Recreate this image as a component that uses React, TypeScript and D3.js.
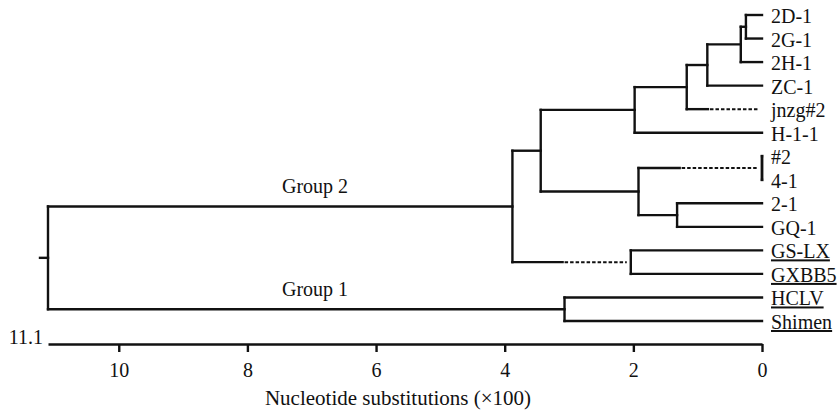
import React, { useEffect, useRef } from 'react';
import * as d3 from 'd3';

// leaves, top to bottom
const leafNames = ['2D-1', '2G-1', '2H-1', 'ZC-1', 'jnzg#2', 'H-1-1', '#2', '4-1', '2-1', 'GQ-1', 'GS-LX', 'GXBB5', 'HCLV', 'Shimen'];
const leafParents = ['G', 'G', 'F', 'E', 'D', 'C', 'P', 'P', 'L', 'L', 'M', 'M', 'G1', 'G1'];
const underlined = ['GS-LX', 'GXBB5', 'HCLV', 'Shimen'];

// internal nodes, height = distance from the tips (x100 substitutions)
const nodeIds = ['root', 'G2', 'A', 'C', 'D', 'E', 'F', 'G', 'K', 'P', 'L', 'M', 'G1'];
const nodeParents = ['', 'root', 'G2', 'A', 'C', 'D', 'E', 'F', 'A', 'K', 'K', 'G2', 'root'];
const nodeHeights = [11.1, 3.88, 3.44, 1.98, 1.17, 0.85, 0.33, 0.25, 1.92, 0, 1.32, 2.04, 3.07];

// branches drawn partly dashed: solid from parent until dashFrom
const dashedNodes = ['jnzg#2', 'P', 'M'];
const dashFrom = [0.84, 1.28, 3.1];

const groupLabels = ['Group 2', 'Group 1'];
const groupNodes = ['G2', 'G1'];

const tickValues = [0, 2, 4, 6, 8, 10];
const rootLabel = '11.1';
const axisTitle = 'Nucleotide substitutions (\u00d7100)';

const font = '"Liberation Serif", "Times New Roman", Times, serif';
const ink = '#111';
const lw = 2.4;

export default function App() {
  const axisRef = useRef<SVGGElement>(null);

  const x = d3.scaleLinear().domain([11.1, 0]).range([48, 762]);
  const y = d3.scalePoint<string>().domain(leafNames).range([15, 321]);
  const axisY = 344;

  const table = [
    ...nodeIds.map((id, i) => ({ id, parentId: nodeParents[i], height: nodeHeights[i] })),
    ...leafNames.map((id, i) => ({ id, parentId: leafParents[i], height: 0 })),
  ];
  const root: any = d3.stratify<any>().id((d: any) => d.id).parentId((d: any) => d.parentId)(table);
  root.eachAfter((n: any) => {
    if (!n.children) n.py = y(n.id);
    else {
      const ys = n.children.map((c: any) => c.py);
      n.py = ((d3.min(ys) as number) + (d3.max(ys) as number)) / 2;
    }
    n.px = x(n.data.height);
  });
  const nodes: any[] = root.descendants();
  const byId: Record<string, any> = {};
  nodes.forEach((n) => (byId[n.id] = n));

  useEffect(() => {
    if (!axisRef.current) return;
    const g = d3.select(axisRef.current);
    g.selectAll('*').remove();
    g.call(d3.axisBottom(x).tickValues(tickValues).tickSize(8).tickSizeOuter(0).tickPadding(11).tickFormat(d3.format('d')) as any);
    g.select('.domain').attr('stroke', ink).attr('stroke-width', lw);
    g.selectAll('.tick line').attr('stroke', ink).attr('stroke-width', lw);
    g.selectAll('.tick text').attr('fill', ink).attr('font-size', 20).attr('font-family', font);
  }, []);

  return (
    <svg width={840} height={414} style={{ position: 'absolute', left: 0, top: 0, background: '#fff' }}>
      <g fill="none" stroke={ink} strokeWidth={lw} strokeLinecap="square">
        {/* root stub */}
        <path d={`M${root.px - 8},${root.py}H${root.px}`} />
        {nodes.filter((n) => n.children).map((n) => {
          const ys = n.children.map((c: any) => c.py);
          return (
            <path key={'v' + n.id} d={`M${n.px},${d3.min(ys)}V${d3.max(ys)}`} strokeWidth={n.id === 'P' ? 2.8 : lw} />
          );
        })}
        {nodes.filter((n) => n.parent).map((n) => {
          const k = dashedNodes.indexOf(n.id);
          const x0 = n.parent.px;
          if (k < 0) return <path key={'h' + n.id} d={`M${x0},${n.py}H${n.px}`} />;
          const xm = x(dashFrom[k]);
          return (
            <g key={'h' + n.id}>
              <path d={`M${x0},${n.py}H${xm}`} />
              <path d={`M${xm + 2},${n.py}H${n.px - 4}`} strokeDasharray="3.5 2" strokeLinecap="butt" strokeWidth={2} />
            </g>
          );
        })}
      </g>
      <g fontFamily={font} fontSize={20} fill={ink}>
        {leafNames.map((name) => (
          <text key={name} x={x(0) + 9} y={byId[name].py + 8}
            style={{ textDecoration: underlined.includes(name) ? 'underline' : 'none' }}>
            {name}
          </text>
        ))}
        {groupLabels.map((label, i) => (
          <text key={label} x={282} y={byId[groupNodes[i]].py - 13}>{label}</text>
        ))}
        <text x={x(11.1) - 5} y={axisY} textAnchor="end">{rootLabel}</text>
        <text x={398} y={405} textAnchor="middle" fontSize={21}>{axisTitle}</text>
      </g>
      <g ref={axisRef} transform={`translate(0,${axisY})`} />
    </svg>
  );
}
